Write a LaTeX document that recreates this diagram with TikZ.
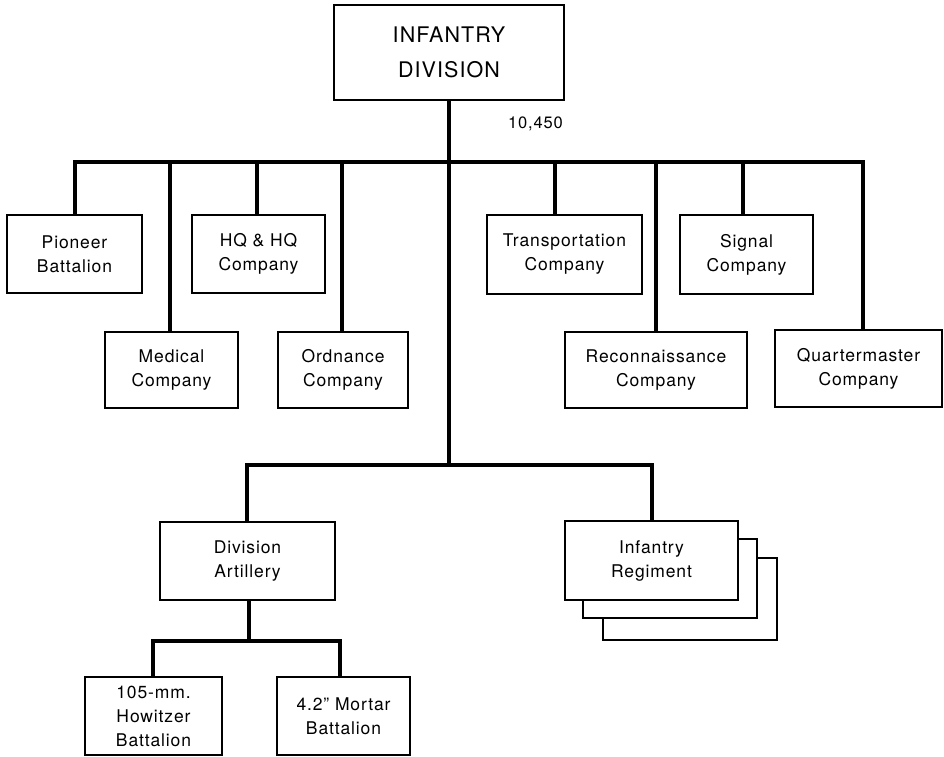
\documentclass[tikz,border=0pt]{standalone}
\usepackage{fontspec}
\setmainfont{TeX Gyre Heros}[LetterSpace=5]
\begin{document}
\begin{tikzpicture}[x=1pt,y=-1pt,
  unitbox/.style={draw=black, line width=2pt, fill=white, inner sep=0pt, align=center,
    font=\fontsize{17.5}{24}\selectfont},
  topbox/.style={unitbox, font=\fontsize{21.5}{35}\selectfont},
  link/.style={draw=black, line width=4.5pt, line join=miter},
  strength/.style={font=\fontsize{16.5}{20}\selectfont, inner sep=0pt, anchor=base east}]
\useasboundingbox (0,0) rectangle (944,756);

% top
\node[topbox, minimum width=230pt, minimum height=95pt] (div) at (449,52.5) {INFANTRY\\DIVISION};
\node[strength] (num) at (563,128) {10,450};

% upper staff units
\node[unitbox, minimum width=135pt, minimum height=78pt] (pion) at (74.5,254) {Pioneer\\Battalion};
\node[unitbox, minimum width=133pt, minimum height=78pt] (hq) at (258.5,254) {HQ \& HQ\\Company};
\node[unitbox, minimum width=133pt, minimum height=76pt] (med) at (171.5,370) {Medical\\Company};
\node[unitbox, minimum width=130pt, minimum height=76pt] (ord) at (343,370) {Ordnance\\Company};
\node[unitbox, minimum width=155pt, minimum height=79pt] (trans) at (564.5,254.5) {Transportation\\Company};
\node[unitbox, minimum width=133pt, minimum height=79pt] (sig) at (746.5,254.5) {Signal\\Company};
\node[unitbox, minimum width=182pt, minimum height=76pt] (recon) at (656,370) {Reconnaissance\\Company};
\node[unitbox, minimum width=167pt, minimum height=77pt] (qm) at (858.5,368.5) {Quartermaster\\Company};

% lower units
\node[unitbox, minimum width=175pt, minimum height=78pt] (art) at (247.5,561) {Division\\Artillery};
\node[unitbox, minimum width=174pt, minimum height=82pt] (reg3) at (690,599) {};
\node[unitbox, minimum width=174pt, minimum height=79pt] (reg2) at (670,578.5) {};
\node[unitbox, minimum width=173pt, minimum height=79pt] (reg) at (651.5,560.5) {Infantry\\Regiment};
\node[unitbox, minimum width=137pt, minimum height=78pt] (how) at (153.5,716) {105-mm.\\Howitzer\\Battalion};
\node[unitbox, minimum width=133pt, minimum height=78pt] (mor) at (343.5,716) {4.2'' Mortar\\Battalion};

% bus coordinates
\coordinate (bus) at (449,162);
\coordinate (bpion) at (75,162);
\coordinate (bmed) at (170,162);
\coordinate (bhq) at (257,162);
\coordinate (bord) at (342,162);
\coordinate (btrans) at (555,162);
\coordinate (brecon) at (656,162);
\coordinate (bsig) at (743,162);
\coordinate (bqm) at (863,162);
\coordinate (lbus) at (449,465);
\coordinate (lart) at (247,465);
\coordinate (lreg) at (652,465);
\coordinate (abus) at (249,641);
\coordinate (ahow) at (153,641);
\coordinate (amor) at (340,641);

% connectors
\draw[link] (div.south -| bus) -- (lbus);
\draw[link] (bpion |- pion.north) -- (bpion) -- (bqm) -- (bqm |- qm.north);
\draw[link] (bmed) -- (bmed |- med.north);
\draw[link] (bhq) -- (bhq |- hq.north);
\draw[link] (bord) -- (bord |- ord.north);
\draw[link] (btrans) -- (btrans |- trans.north);
\draw[link] (brecon) -- (brecon |- recon.north);
\draw[link] (bsig) -- (bsig |- sig.north);
\draw[link] (lart |- art.north) -- (lart) -- (lreg) -- (lreg |- reg.north);
\draw[link] (abus |- art.south) -- (abus);
\draw[link] (ahow |- how.north) -- (ahow) -- (amor) -- (amor |- mor.north);
\end{tikzpicture}
\end{document}
